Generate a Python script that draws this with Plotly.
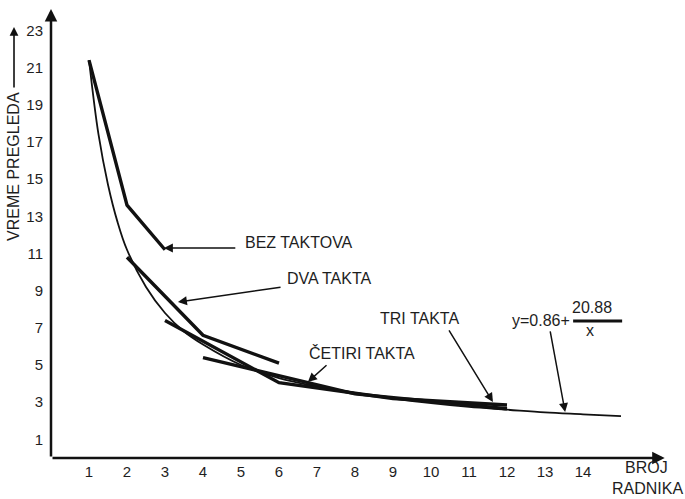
import plotly.graph_objects as go

# ---- data ----
x_ticks = list(range(1, 15))
y_ticks = [1, 3, 5, 7, 9, 11, 13, 15, 17, 19, 21, 23]

bez_x = [1, 2, 3]
bez_y = [21.4, 13.6, 11.2]

dva_x = [2, 4, 6]
dva_y = [10.8, 6.6, 5.1]

tri_x = [3, 6, 9, 12]
tri_y = [7.4, 4.05, 3.2, 2.85]

cetiri_x = [4, 8, 12]
cetiri_y = [5.4, 3.45, 2.65]

fit_x = [1, 1.25, 1.5, 1.75, 2, 2.5, 3, 3.5, 4, 5, 6, 7, 8, 9, 10, 11, 12, 13, 14, 15]
fit_y = [21.4, 17.4, 14.7, 12.7, 11.2, 9.2, 7.8, 6.8, 6.1, 5.0, 4.3, 3.85, 3.5, 3.2,
         2.95, 2.75, 2.6, 2.45, 2.35, 2.25]

FONT = "Arial, Liberation Sans, sans-serif"
INK = "#111111"
TXT = "#1e1e1e"
FS = 16

fig = go.Figure()
fig.add_trace(go.Scatter(x=fit_x, y=fit_y, mode="lines", line=dict(color=INK, width=1.8, shape="spline"),
                         hoverinfo="skip"))
for xs, ys in [(bez_x, bez_y), (dva_x, dva_y), (tri_x, tri_y), (cetiri_x, cetiri_y)]:
    fig.add_trace(go.Scatter(x=xs, y=ys, mode="lines", line=dict(color=INK, width=3.4),
                             hoverinfo="skip"))

ann = []

def arrow(x, y, ax, ay, w=1.5, size=1.2):
    ann.append(dict(x=x, y=y, ax=ax, ay=ay, xref="x", yref="y", axref="x", ayref="y",
                    text="", showarrow=True, arrowhead=2, arrowwidth=w, arrowsize=size,
                    arrowcolor=INK))

def label(text, x, y, xanchor="left", size=FS, angle=0, ref="x"):
    ann.append(dict(x=x, y=y, xref=ref if ref == "x" else "paper",
                    yref="y" if ref == "x" else "paper", text=text, showarrow=False,
                    xanchor=xanchor, yanchor="middle", textangle=angle,
                    font=dict(family=FONT, size=size, color=TXT)))

# axes with arrowheads
arrow(0, 24.15, 0, 0, w=2.5, size=1.0)
arrow(16.15, 0, 0, 0, w=2.5, size=1.0)

# axis titles (paper coordinates, outside the plot)
label("VREME PREGLEDA", -0.059, 0.644, xanchor="center", angle=-90, ref="paper")
ann.append(dict(x=-0.059, y=0.9535, xref="paper", yref="paper", ax=0, ay=62, text="",
                showarrow=True, arrowhead=2, arrowwidth=1.6, arrowsize=1.1, arrowcolor=INK))
label("BROJ", 0.949, -0.020, xanchor="center", ref="paper")
label("RADNIKA", 0.952, -0.068, xanchor="center", ref="paper")

# series labels and pointers
label("BEZ TAKTOVA", 5.05, 11.57)
arrow(2.97, 11.3, 4.89, 11.3)
label("DVA TAKTA", 6.16, 9.68)
arrow(3.34, 8.39, 6.08, 9.2)
label("ČETIRI TAKTA", 6.74, 5.65)
arrow(6.76, 4.09, 7.29, 5.06)
label("TRI TAKTA", 8.61, 7.48)
arrow(11.63, 3.01, 10.45, 6.94)

# formula
label("y=0.86+", 12.08, 7.42)
label("20.88", 14.24, 8.07, xanchor="center")
label("x", 14.18, 6.87, xanchor="center")
arrow(13.53, 2.47, 13.13, 6.89)

fig.add_shape(type="line", x0=13.74, x1=15.03, y0=7.37, y1=7.37, xref="x", yref="y",
              line=dict(color=INK, width=3))

fig.update_layout(
    width=685, height=499,
    margin=dict(l=51, r=7, t=6, b=41),
    paper_bgcolor="white", plot_bgcolor="white",
    showlegend=False,
    annotations=ann,
    font=dict(family=FONT, size=FS, color=TXT),
)
fig.update_xaxes(range=[0, 16.5], tickvals=x_ticks, ticktext=[str(v) for v in x_ticks],
                 showgrid=False, zeroline=False, showline=False, ticks="",
                 ticklabelstandoff=3, tickfont=dict(family=FONT, size=15, color=TXT))
fig.update_yaxes(range=[0, 24.31], tickvals=y_ticks, ticktext=[str(v) for v in y_ticks],
                 showgrid=False, zeroline=False, showline=False, ticks="",
                 ticklabelstandoff=7, tickfont=dict(family=FONT, size=15, color=TXT))

fig.write_html("out.html", config={"displayModeBar": False},
               post_script="document.body.style.margin='0';")
